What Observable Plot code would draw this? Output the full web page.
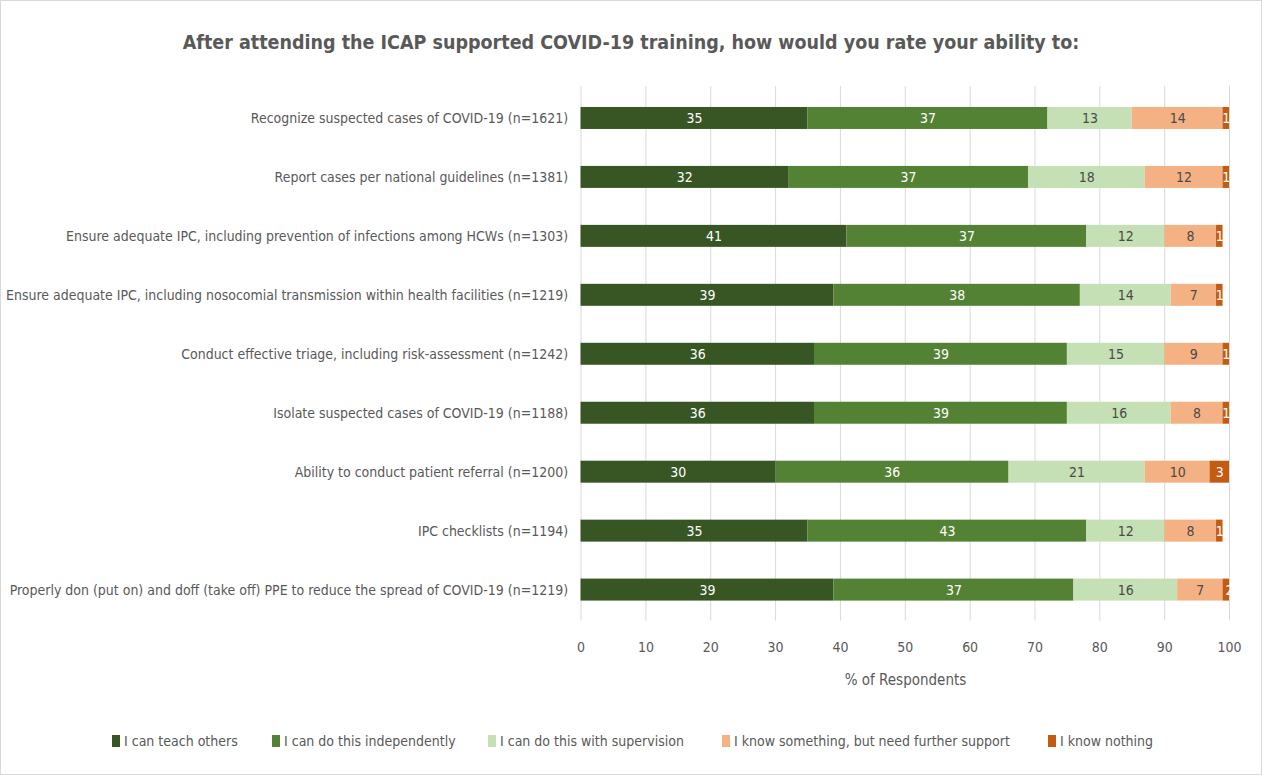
<!DOCTYPE html>
<html><head><meta charset="utf-8">
<script src="https://cdn.jsdelivr.net/npm/d3@7"></script>
<script src="https://cdn.jsdelivr.net/npm/@observablehq/plot@0.6"></script>
<style>
body{margin:0;background:#fff;}
#wrap{position:relative;width:1262px;height:775px;box-sizing:border-box;border:1px solid #d9d9d9;font-family:"DejaVu Sans Condensed","DejaVu Sans",sans-serif;color:#595959;overflow:hidden;background:#fff}
#title{position:absolute;top:30px;left:0;width:100%;text-align:center;font-size:19.5px;font-weight:bold;}
#chart{position:absolute;top:79px;left:-1px}
#xlabel{position:absolute;top:670px;left:580px;width:649px;text-align:center;font-size:15px}
.leg{position:absolute;top:731px;font-size:14px;white-space:nowrap;display:flex;align-items:center;line-height:18px}
.sw{display:inline-block;width:8px;height:12px;margin-right:4px}
</style></head>
<body>
<div id="wrap">
  <div id="title">After attending the ICAP supported COVID-19 training, how would you rate your ability to:</div>
  <div id="chart"></div>
  <div id="xlabel">% of Respondents</div>
  <div id="legend"></div>
</div>
<script>
const categories = [
  "Recognize suspected cases of COVID-19 (n=1621)",
  "Report cases per national guidelines (n=1381)",
  "Ensure adequate IPC, including prevention of infections among HCWs (n=1303)",
  "Ensure adequate IPC, including nosocomial transmission within health facilities (n=1219)",
  "Conduct effective triage, including risk-assessment (n=1242)",
  "Isolate suspected cases of COVID-19 (n=1188)",
  "Ability to conduct patient referral (n=1200)",
  "IPC checklists (n=1194)",
  "Properly don (put on) and doff (take off) PPE to reduce the spread of COVID-19 (n=1219)"
];
const responses = [
  "I can teach others",
  "I can do this independently",
  "I can do this with supervision",
  "I know something, but need further support",
  "I know nothing"
];
const colors = ["#375623", "#548235", "#C5E0B4", "#F4B183", "#C55A11"];
const teachOthers   = [35, 32, 41, 39, 36, 36, 30, 35, 39];
const independently = [37, 37, 37, 38, 39, 39, 36, 43, 37];
const supervision   = [13, 18, 12, 14, 15, 16, 21, 12, 16];
const needSupport   = [14, 12, 8, 7, 9, 8, 10, 8, 7];
const knowNothing   = [1, 1, 1, 1, 1, 1, 3, 1, 2];
const xTicks = [0, 10, 20, 30, 40, 50, 60, 70, 80, 90, 100];
const legendLeft = [111, 271, 487, 721, 1047];

const series = [teachOthers, independently, supervision, needSupport, knowNothing];
const data = [];
categories.forEach((c, i) => {
  responses.forEach((r, j) => {
    data.push({category: c, response: r, value: series[j][i], light: j === 2 || j === 3});
  });
});

const font = '"DejaVu Sans Condensed","DejaVu Sans",sans-serif';
const chart = Plot.plot({
  width: 1262,
  height: 620,
  marginLeft: 581,
  marginRight: 32,
  marginTop: 6,
  marginBottom: 79,
  style: {fontFamily: font, fontSize: "14px", color: "#595959", background: "transparent"},
  x: {domain: [0, 100], clamp: true},
  y: {domain: categories, paddingInner: 0.63, paddingOuter: 0.315},
  color: {domain: responses, range: colors},
  marks: [
    Plot.gridX(xTicks, {stroke: "#d9d9d9", strokeOpacity: 1, strokeWidth: 1}),
    Plot.barX(data, Plot.stackX({x: "value", y: "category", fill: "response"})),
    Plot.text(data, Plot.stackX({x: "value", y: "category", z: "response", text: d => d.light ? null : String(d.value), fill: "white", fontSize: 14})),
    Plot.text(data, Plot.stackX({x: "value", y: "category", z: "response", text: d => d.light ? String(d.value) : null, fill: "#4a4a4a", fontSize: 14})),
    Plot.axisX(xTicks, {tickSize: 0, tickPadding: 21, label: null, fontSize: 14}),
    Plot.axisY({tickSize: 0, tickPadding: 13, label: null, fontSize: 14})
  ]
});
document.getElementById("chart").appendChild(chart);

const leg = document.getElementById("legend");
responses.forEach((r, j) => {
  const d = document.createElement("div");
  d.className = "leg";
  d.style.left = legendLeft[j] + "px";
  const s = document.createElement("span");
  s.className = "sw";
  s.style.background = colors[j];
  d.appendChild(s);
  d.appendChild(document.createTextNode(r));
  leg.appendChild(d);
});
</script>
</body></html>
